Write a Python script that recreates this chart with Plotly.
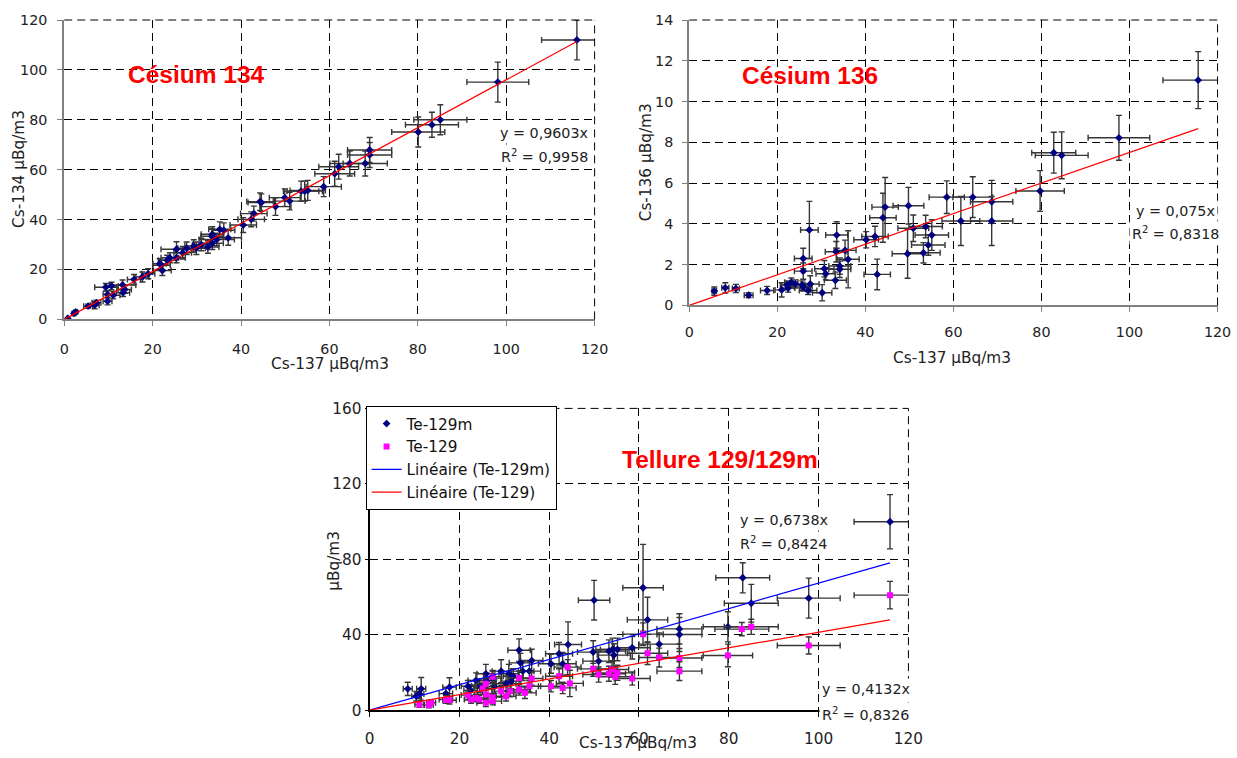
import plotly.graph_objects as go

W, H = 1237, 758

# ---------------- Data ----------------
# Césium 134 vs Cs-137
cs134_x = [116.0, 98.1, 85.1, 83.2, 80.1, 69.1, 69.1, 68.1, 64.6, 62.1, 61.2, 58.7, 55.1, 54.4, 53.6,
           51.0, 49.9, 47.8, 44.6, 44.3, 42.9, 42.3, 40.5, 37.1, 36.1, 35.2, 33.5, 33.4, 33.5, 32.5,
           29.9, 29.3, 27.7, 26.8, 25.4, 25.4, 23.9, 23.3, 22.0, 22.2, 21.6, 19.0, 17.7, 15.8, 13.7,
           13.2, 13.3, 11.1, 10.7, 9.4, 9.8, 9.8, 7.3, 6.9, 5.4, 2.6, 2.2, 0.8, 31.0, 34.5]
cs134_y = [112.0, 95.1, 80.0, 78.0, 75.1, 67.9, 65.9, 62.5, 62.5, 61.2, 58.4, 53.2, 51.7, 51.4, 51.4,
           47.4, 48.8, 45.2, 46.8, 47.2, 42.4, 40.1, 37.8, 32.7, 35.7, 36.1, 34.1, 33.3, 30.5, 29.0,
           28.5, 29.4, 28.5, 26.7, 28.1, 24.7, 24.7, 23.7, 21.7, 19.6, 22.3, 18.3, 17.0, 16.0, 12.0,
           13.8, 10.7, 9.7, 13.4, 12.9, 7.3, 10.0, 6.7, 5.7, 5.3, 3.0, 2.4, 0.4, 30.0, 32.0]
cs134_ex = [8, 7, 6, 6, 6, 5, 5, 5, 4.5, 4.5, 4.5, 4, 4, 4, 4,
            3.5, 3.5, 3.5, 3, 3, 3, 3, 3, 3, 2.5, 2.5, 2.5, 2.5, 2.5, 2.5,
            2, 2, 2, 2, 3.5, 2, 2, 2, 2, 2, 1.5, 1.5, 1.5, 1.5, 1.5,
            3, 1.5, 1.5, 1.5, 2.5, 1, 1, 1, 1, 1, 0.4, 0.4, 0.2, 2, 4]
cs134_ey = [8, 8, 6, 5, 6, 5, 5, 5, 5, 5, 5, 4, 4, 4, 4,
            3.5, 3.5, 3.5, 3.5, 3.5, 3, 3, 3, 3, 3, 3, 3, 3, 2.5, 2.5,
            2.5, 2.5, 2.5, 2.5, 3, 2, 2, 2, 2, 2, 2, 2, 2, 2, 1.5,
            2, 1.5, 1.5, 1.5, 1.5, 1.5, 1.5, 1, 1.5, 0.8, 0.5, 0.5, 0.2, 2.5, 2.5]
cs134_slope = 0.9603

# Césium 136 vs Cs-137
cs136_x = [5.7, 8.2, 10.6, 13.5, 17.7, 21.0, 22.2, 22.5, 23.2, 24.1, 25.7, 25.9, 25.9, 25.9, 27.5,
           27.3, 27.0, 30.2, 30.7, 31.0, 33.2, 33.4, 33.5, 34.2, 34.2, 35.4, 36.1, 40.2, 42.2, 42.7,
           44.0, 44.5, 49.8, 49.6, 50.9, 53.2, 53.7, 54.3, 55.1, 58.5, 64.4, 61.7, 68.7, 68.7, 79.7,
           82.8, 84.6, 97.6, 115.6]
cs136_y = [0.70, 0.86, 0.83, 0.50, 0.73, 0.76, 1.00, 0.85, 1.14, 1.05, 1.00, 2.30, 1.68, 0.90, 1.05,
           3.70, 0.73, 0.62, 1.80, 1.55, 1.23, 2.63, 3.45, 1.93, 1.77, 2.70, 2.26, 3.22, 3.38, 1.52,
           4.30, 4.82, 4.89, 2.53, 3.78, 2.58, 3.87, 2.96, 3.45, 5.31, 5.31, 4.14, 5.08, 4.14, 5.61,
           7.49, 7.36, 8.22, 11.05]
cs136_ex = [0.5, 0.8, 0.8, 1.0, 1.5, 1.5, 1.5, 1.5, 1.5, 1.5, 2, 2, 2, 2, 2,
            2, 2, 2.2, 2.2, 2.2, 2.5, 2.5, 2.5, 2.5, 2.5, 2.5, 2.5, 2.8, 3, 3,
            3, 3, 3.5, 3.5, 3.5, 3.8, 3.8, 3.8, 3.8, 4, 4.5, 4.3, 4.8, 4.8, 5.5,
            5, 6, 7, 8]
cs136_ey = [0.2, 0.25, 0.2, 0.12, 0.2, 0.35, 0.2, 0.2, 0.2, 0.2, 0.2, 0.5, 0.4, 0.2, 0.4,
            1.4, 0.2, 0.4, 0.4, 0.3, 0.4, 0.5, 0.65, 0.4, 0.4, 0.5, 1.4, 0.4, 0.5, 0.75,
            1.2, 1.45, 0.9, 1.2, 0.65, 0.5, 0.55, 0.5, 0.75, 0.8, 1.0, 1.2, 1.05, 1.2, 1.0,
            1.0, 1.15, 1.1, 1.4]
cs136_slope = 0.075

# Tellure 129m vs Cs-137
te129m_x = [8.5, 10.4, 11.1, 11.5, 17.0, 17.8, 21.9, 23.7, 25.9, 26.1, 27.4, 29.3, 31.0, 31.5, 33.3,
            33.6, 34.1, 35.6, 36.1, 40.4, 42.2, 43.0, 44.2, 49.8, 51.0, 50.0, 53.3, 54.1, 54.4, 55.2,
            58.5, 60.9, 61.9, 64.5, 69.0, 69.0, 79.8, 83.1, 85.0, 97.8, 115.9, 22.5, 24.5, 27.8, 30.4, 32.0]
te129m_y = [11.3, 7.4, 8.6, 11.3, 8.8, 12.2, 12.7, 15.8, 19.3, 15.6, 17.0, 20.7, 19.3, 15.4, 31.8,
            25.1, 20.7, 20.7, 26.3, 24.6, 29.9, 24.6, 34.8, 30.8, 26.0, 58.3, 31.3, 32.2, 29.2, 32.2,
            33.1, 64.9, 47.9, 35.0, 43.1, 40.1, 44.2, 70.2, 56.7, 59.4, 99.9, 10.5, 13.0, 12.5, 14.0, 18.0]
te129m_ex = [1.0, 1.0, 1.0, 1.0, 1.5, 1.5, 1.5, 1.8, 2, 2, 2, 2, 2.2, 2.2, 2.5,
             2.5, 2.5, 2.5, 2.5, 2.8, 3, 3, 3, 3.5, 3.5, 3.5, 3.7, 3.7, 3.7, 3.8,
             4, 4.5, 4.5, 4.5, 5, 5, 5.5, 6, 6, 7, 8, 1.5, 1.8, 2, 2.2, 2.2]
te129m_ey = [3.5, 2.5, 2.5, 6, 3, 5, 3, 4, 5, 4, 4, 6, 5, 4, 6,
             5, 5, 5, 6, 5, 6, 6, 12, 6, 6, 10.5, 6, 6, 6, 6,
             6, 23, 12, 6, 8, 9, 8, 8, 10, 10.6, 14.4, 3, 3.5, 3.5, 4, 4]
te129m_slope = 0.6738

# Tellure 129 vs Cs-137
te129_x = [11.1, 13.2, 13.7, 17.0, 17.8, 21.9, 22.6, 23.7, 24.4, 25.2, 25.9, 25.9, 26.0, 27.4, 27.4,
           27.4, 29.3, 30.4, 31.3, 33.3, 33.3, 34.6, 35.6, 36.1, 40.4, 42.2, 43.0, 44.6, 44.1, 49.8,
           51.0, 53.3, 54.0, 54.7, 55.2, 58.5, 60.9, 61.9, 64.5, 69.0, 69.0, 79.8, 82.9, 85.0, 97.8, 115.9]
te129_y = [3.0, 2.7, 3.9, 5.7, 5.3, 8.0, 5.7, 6.5, 5.7, 11.5, 14.0, 3.9, 8.3, 17.7, 4.8,
           6.9, 10.1, 7.4, 10.1, 17.1, 11.0, 9.2, 12.7, 16.8, 12.7, 18.0, 11.8, 14.2, 22.8, 21.9,
           18.9, 19.3, 21.6, 17.7, 19.8, 16.8, 40.3, 30.2, 27.9, 27.7, 20.7, 29.0, 43.0, 44.2, 34.3, 61.0]
te129_ex = [1, 1, 1, 1.5, 1.5, 1.5, 1.5, 1.8, 1.8, 2, 2, 2, 2, 2, 2,
            2, 2, 2.2, 2.2, 2.5, 2.5, 2.5, 2.5, 2.5, 2.8, 3, 3, 3, 3, 3.5,
            3.5, 3.7, 3.7, 3.7, 3.8, 4, 4.5, 4.5, 4.5, 5, 5, 5.5, 6, 6, 7, 8]
te129_ey = [1.5, 1.5, 1.5, 2, 2, 2.5, 2, 2, 2, 3, 3, 2, 2.5, 3, 2,
            2, 3, 2.5, 3, 3.5, 3, 3, 3, 3.5, 3, 4, 3, 7, 4, 4,
            4, 4, 4, 4, 4, 3.5, 6, 6, 5, 5, 5, 6, 3.5, 4, 4.5, 7.3]
te129_slope = 0.4132

x_ticks = [0, 20, 40, 60, 80, 100, 120]

# ---------------- Layout helpers ----------------
# The photographed page shows the figure slightly shrunk and offset; map target
# screen pixels to paper fractions to compensate.
SX, BX = 0.985, 5.0
SY, BY = 0.976, 8.0
FS = 1.0 / 0.98  # font compensation


def px(x):
    return (x - BX) / SX / W


def py(y):
    return 1 - (y - BY) / SY / H


def f(s):
    return round(s * FS, 1)


NAVY = "#000080"
ERRC = "#363636"
FONT = "DejaVu Sans"
DASH = "8px,5px"

fig = go.Figure()


def scatter(xs, ys, ex, ey, xa, ya, name, color, symbol, size, showlegend):
    fig.add_trace(go.Scatter(
        x=xs, y=ys, mode="markers", name=name, xaxis=xa, yaxis=ya,
        marker=dict(color=color, symbol=symbol, size=size, line=dict(width=0)),
        error_x=dict(type="data", array=ex, visible=True, color=ERRC, thickness=1.4, width=3),
        error_y=dict(type="data", array=ey, visible=True, color=ERRC, thickness=1.4, width=3),
        showlegend=showlegend))


def trend(xs, slope, xa, ya, name, color, showlegend):
    xmax = max(xs)
    fig.add_trace(go.Scatter(
        x=[0, xmax], y=[0, slope * xmax], mode="lines", name=name, xaxis=xa, yaxis=ya,
        line=dict(color=color, width=1.2), showlegend=showlegend))


scatter(cs134_x, cs134_y, cs134_ex, cs134_ey, "x", "y", "Cs-134", NAVY, "diamond", 6, False)
trend(cs134_x, cs134_slope, "x", "y", "Linéaire (Cs-134)", "#FF0000", False)

scatter(cs136_x, cs136_y, cs136_ex, cs136_ey, "x2", "y2", "Cs-136", NAVY, "diamond", 6, False)
trend(cs136_x, cs136_slope, "x2", "y2", "Linéaire (Cs-136)", "#FF0000", False)

scatter(te129m_x, te129m_y, te129m_ex, te129m_ey, "x3", "y3", "Te-129m", NAVY, "diamond", 6, True)
scatter(te129_x, te129_y, te129_ex, te129_ey, "x3", "y3", "Te-129", "#FF00FF", "square", 6, True)
trend(te129m_x, te129m_slope, "x3", "y3", "Linéaire (Te-129m)", "#0000FF", True)
trend(te129_x, te129_slope, "x3", "y3", "Linéaire (Te-129)", "#FF0000", True)

grid = dict(showgrid=True, gridcolor="#000000", gridwidth=1, griddash=DASH, zeroline=False,
            ticks="outside", ticklen=5)


def xaxis(dom, anchor, linecolor, standoff, fsize=14):
    d = dict(grid)
    d.update(domain=dom, anchor=anchor, range=[0, 120], tickvals=x_ticks,
             showline=True, linecolor=linecolor, linewidth=2, tickcolor=linecolor,
             ticklabelstandoff=standoff, tickfont=dict(family=FONT, size=f(fsize), color="#222"))
    return d


def yaxis(dom, anchor, rng, dtick, linecolor, standoff, ticklen=5, fsize=14):
    d = dict(grid)
    d.update(domain=dom, anchor=anchor, range=rng, dtick=dtick, tick0=0,
             showline=True, linecolor=linecolor, linewidth=2, tickcolor=linecolor,
             ticklen=ticklen, ticklabelstandoff=standoff,
             tickfont=dict(family=FONT, size=f(fsize), color="#222"))
    return d


fig.update_layout(
    width=W, height=H, autosize=False,
    margin=dict(l=0, r=0, t=0, b=0),
    paper_bgcolor="white", plot_bgcolor="white",
    font=dict(family=FONT, size=14, color="#222"),
    xaxis=xaxis([px(64.3), px(595.3)], "y", "#808080", 10),
    yaxis=yaxis([py(318.3), py(19)], "x", [0, 120], 20, "#808080", 7),
    xaxis2=xaxis([px(690), px(1219)], "y2", "#808080", 7),
    yaxis2=yaxis([py(304.3), py(19)], "x2", [0, 14], 2, "#808080", 6),
    xaxis3=xaxis([px(370), px(909.5)], "y3", "#000000", 8, 15),
    yaxis3=yaxis([py(709), py(407.3)], "x3", [0, 160], 40, "#000000", 0, 3, 15),
    legend=dict(x=px(366), y=py(405), xanchor="left", yanchor="top",
                bgcolor="white", bordercolor="#000000", borderwidth=1,
                font=dict(family=FONT, size=f(15), color="#111"), traceorder="normal",
                itemwidth=30, tracegroupgap=0),
)

# dashed border lines at the far ends of each plot (top and right grid lines)
shapes = []
for xa, ya in (("x", "y"), ("x2", "y2"), ("x3", "y3")):
    shapes.append(dict(type="line", xref=f"{xa} domain", yref=f"{ya} domain",
                       x0=1, x1=1, y0=0, y1=1, line=dict(color="#000000", width=1, dash=DASH)))
    shapes.append(dict(type="line", xref=f"{xa} domain", yref=f"{ya} domain",
                       x0=0, x1=1, y0=1, y1=1, line=dict(color="#000000", width=1, dash=DASH)))
fig.update_layout(shapes=shapes)

anns = []


def title(text, x, y):
    anns.append(dict(text=f"<b>{text}</b>", x=px(x), y=py(y), xref="paper", yref="paper",
                     showarrow=False, xanchor="center", yanchor="middle",
                     font=dict(family="Liberation Sans", size=f(24), color="#FF0000")))


def label(text, x, y, anchor="center", angle=0, size=15):
    anns.append(dict(text=text, x=px(x), y=py(y), xref="paper", yref="paper",
                     showarrow=False, xanchor=anchor, yanchor="middle", textangle=angle,
                     font=dict(family=FONT, size=f(size), color="#222")))


def eq(text, x, y, anchor):
    anns.append(dict(text=text, x=px(x), y=py(y), xref="paper", yref="paper",
                     showarrow=False, xanchor=anchor, yanchor="middle", bgcolor="white",
                     borderpad=2, font=dict(family=FONT, size=f(14), color="#222")))


title("Césium 134", 197, 73)
title("Césium 136", 811, 74)
title("Tellure 129/129m", 721, 458)

label("Cs-137 µBq/m3", 330, 363)
label("Cs-134 µBq/m3", 19, 168, angle=-90)
label("Cs-137 µBq/m3", 953, 357)
label("Cs-136 µBq/m3", 647, 161, angle=-90)
label("Cs-137 µBq/m3", 639, 742)
label("µBq/m3", 335, 560, angle=-90)

eq("y = 0,9603x", 592, 132, "right")
eq("R<sup>2</sup> = 0,9958", 592, 155, "right")
eq("y = 0,075x", 1177, 210, "center")
eq("R<sup>2</sup> = 0,8318", 1177, 232, "center")
eq("y = 0,6738x", 738, 519, "left")
eq("R<sup>2</sup> = 0,8424", 738, 542, "left")
eq("y = 0,4132x", 820, 688, "left")
eq("R<sup>2</sup> = 0,8326", 820, 713, "left")

fig.update_layout(annotations=anns)

fig.write_html("out.html")
